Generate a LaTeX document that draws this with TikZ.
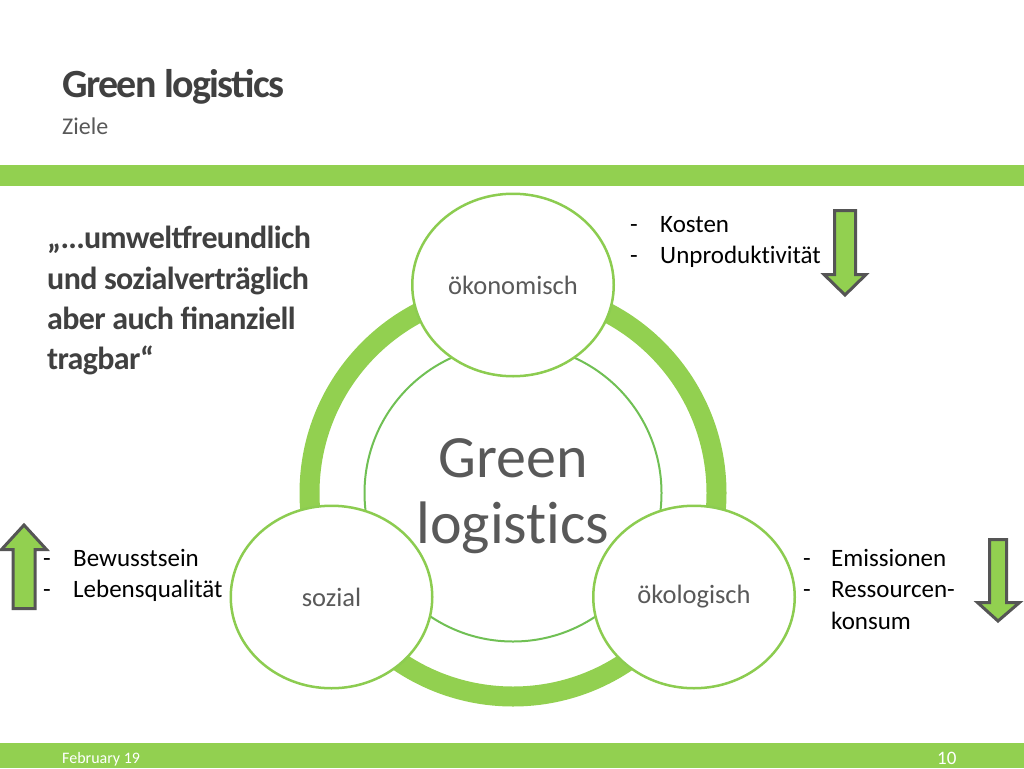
\documentclass[tikz,border=0pt]{standalone}
\usepackage{fontspec}
\setmainfont{Carlito}[Ligatures=NoCommon]
\newfontfamily\quotefont[LetterSpace=-2]{Carlito}
\newfontfamily\titlefont[LetterSpace=-4]{Carlito}
\usetikzlibrary{shapes.geometric}
\definecolor{gbar}{RGB}{146,208,80}
\definecolor{ringgreen}{RGB}{146,208,80}
\definecolor{innergreen}{RGB}{112,192,84}
\definecolor{nodegreen}{RGB}{140,204,80}
\definecolor{txtgrey}{RGB}{89,89,89}
\definecolor{darkgrey}{RGB}{64,64,64}
\definecolor{arrowedge}{RGB}{85,85,85}
\tikzset{
  ring/.style={circle, draw=ringgreen, line width=20pt, minimum size=407pt, inner sep=0pt},
  innerring/.style={circle, draw=innergreen, line width=2pt, minimum size=297pt, inner sep=0pt},
  aspect/.style={ellipse, draw=nodegreen, line width=2.5pt, fill=white, minimum width=201.5pt, minimum height=182.5pt, inner sep=0pt, text=txtgrey, font=\fontsize{26.5}{26.5}\selectfont},
  listtext/.style={anchor=base west, inner sep=0pt, text=black, font=\fontsize{25}{25}\selectfont},
  quoteline/.style={anchor=base west, inner sep=0pt, text=darkgrey, font=\quotefont\bfseries\fontsize{32}{32}\selectfont},
  bigarrow/.style={fill=gbar, draw=arrowedge, line width=3pt, line join=miter},
  bigword/.style={anchor=base, inner sep=0pt, text=txtgrey, font=\fontsize{60}{60}\selectfont}
}
\begin{document}
\begin{tikzpicture}[x=1pt,y=-1pt]
\useasboundingbox (0,0) rectangle (1024,768);
\fill[white] (0,0) rectangle (1024,768);

% bars
\fill[gbar] (0,165) rectangle (1024,186);
\fill[gbar] (0,743) rectangle (1024,768);

% title
\node[anchor=base west, inner sep=0pt, text=darkgrey, font=\titlefont\bfseries\fontsize{40}{40}\selectfont] (title) at (62,97) {Green logistics};
\node[anchor=base west, inner sep=0pt, text=txtgrey, font=\fontsize{24}{24}\selectfont] (sub) at (62,134) {Ziele};

% quote
\node[quoteline] (q1) at (47,248) {„...umweltfreundlich};
\node[quoteline] (q2) at (47,289) {und sozialverträglich};
\node[quoteline] (q3) at (47,329) {aber auch finanziell};
\node[quoteline] (q4) at (47,369) {tragbar“};

% cycle
\node[ring] (ring) at (513,493) {};
\node[innerring] (core) at (513,493) {};
\node[aspect] (oek) at (513,285) {ökonomisch};
\node[aspect] (soz) at (331.5,597) {sozial};
\node[aspect] (eco) at (694,597) {ökologisch};
\node[bigword] (g1) at (513,477) {Green};
\node[bigword] (g2) at (513,543) {logistics};

% lists
\node[listtext] (d1) at (630,232) {-};
\node[listtext] (k1) at (660,232) {Kosten};
\node[listtext] (d2) at (630,263) {-};
\node[listtext] (k2) at (660,263) {Unproduktivität};

\node[listtext] (d3) at (43,566) {-};
\node[listtext] (s1) at (73,566) {Bewusstsein};
\node[listtext] (d4) at (43,597) {-};
\node[listtext] (s2) at (73,597) {Lebensqualität};

\node[listtext] (d5) at (803,566) {-};
\node[listtext] (e1) at (831,566) {Emissionen};
\node[listtext] (d6) at (803,597) {-};
\node[listtext] (e2) at (831,597) {Ressourcen-};
\node[listtext] (e3) at (831,629) {konsum};

% arrows
\draw[bigarrow] (834.5,210.5) -- (855.5,210.5) -- (855.5,274.5) -- (866,274.5) -- (845,295) -- (824,274.5) -- (834.5,274.5) -- cycle;
\draw[bigarrow] (13,608.5) -- (35,608.5) -- (35,549.5) -- (46.5,549.5) -- (24,525) -- (1.5,549.5) -- (13,549.5) -- cycle;
\draw[bigarrow] (989.5,539.5) -- (1006.5,539.5) -- (1006.5,602.5) -- (1019.5,602.5) -- (998,621) -- (977.5,602.5) -- (989.5,602.5) -- cycle;

% footer
\node[anchor=base west, inner sep=0pt, text=white, font=\fontsize{16}{16}\selectfont] (date) at (62,763) {February 19};
\node[anchor=base west, inner sep=0pt, text=white, font=\fontsize{19}{19}\selectfont] (page) at (937,764) {10};
\end{tikzpicture}
\end{document}
